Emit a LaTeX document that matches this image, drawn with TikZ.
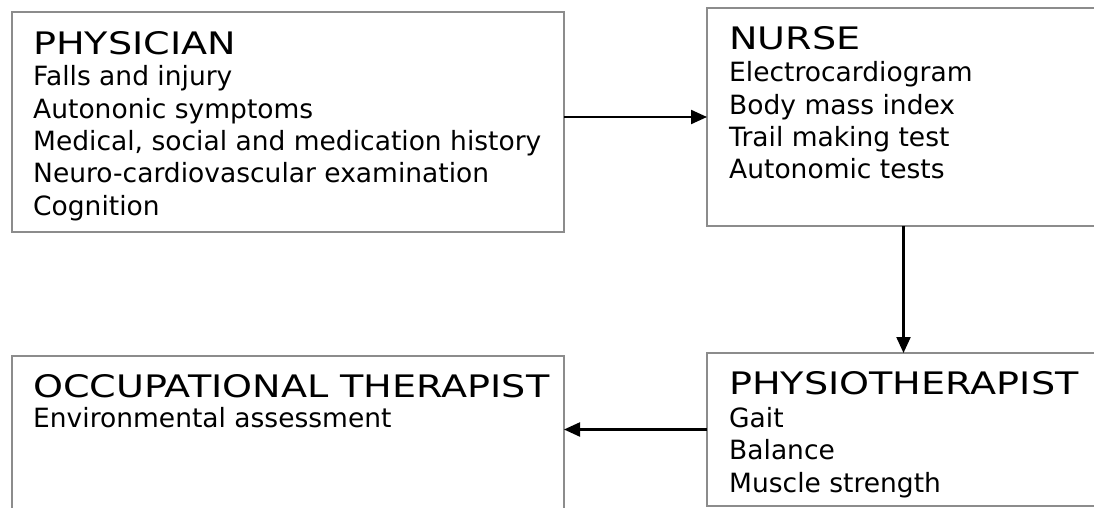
\documentclass[tikz,border=0pt]{standalone}
\usepackage{fontspec}
\setmainfont{DejaVu Sans}
\newfontfamily\headfont[FakeStretch=1.23]{DejaVu Sans}
\usetikzlibrary{arrows.meta}

\definecolor{boxline}{RGB}{140,140,140}

\tikzset{
  box/.style={draw=boxline, line width=2pt, fill=white, rectangle,
              anchor=north west, inner sep=0pt, outer sep=0pt},
  head/.style={anchor=base west, inner sep=0pt,
               font=\headfont\fontsize{31}{34}\selectfont},
  entry/.style={anchor=base west, inner sep=0pt,
                font=\fontsize{26.5}{32}\selectfont},
  flow/.style={draw=black, line width=2.2pt,
               -{Triangle[length=16pt,width=14pt]}}
}

\begin{document}
\begin{tikzpicture}[x=1pt, y=-1pt]
  \useasboundingbox (0,0) rectangle (1094,508);
  \fill[white] (0,0) rectangle (1094,508);
  \clip (0,0) rectangle (1094,508);

  % the four boxes
  \node[box, minimum width=552pt, minimum height=220pt] (phys)   at (12,12)  {};
  \node[box, minimum width=393pt, minimum height=218pt] (nurse)  at (707,8)  {};
  \node[box, minimum width=393pt, minimum height=153pt] (physio) at (707,353) {};
  \node[box, minimum width=552pt, minimum height=164pt] (occ)    at (12,356) {};

  % physician
  \node[head]  (physH) at (33,55)    {PHYSICIAN};
  \node[entry] (phys1) at (33,86)    {Falls and injury};
  \node[entry] (phys2) at (33,118.3) {Autononic symptoms};
  \node[entry] (phys3) at (33,150.6) {Medical, social and medication history};
  \node[entry] (phys4) at (33,182.9) {Neuro-cardiovascular examination};
  \node[entry] (phys5) at (33,215.2) {Cognition};

  % nurse
  \node[head]  (nurseH) at (729,50)    {NURSE};
  \node[entry] (nurse1) at (729,82)    {Electrocardiogram};
  \node[entry] (nurse2) at (729,114.3) {Body mass index};
  \node[entry] (nurse3) at (729,146.6) {Trail making test};
  \node[entry] (nurse4) at (729,178.9) {Autonomic tests};

  % physiotherapist
  \node[head]  (physioH) at (729,394)   {PHYSIOTHERAPIST};
  \node[entry] (physio1) at (729,427)   {Gait};
  \node[entry] (physio2) at (729,459.5) {Balance};
  \node[entry] (physio3) at (729,492)   {Muscle strength};

  % occupational therapist
  \node[head]  (occH) at (33,397) {OCCUPATIONAL THERAPIST};
  \node[entry] (occ1) at (33,427) {Environmental assessment};

  % referral flow
  \draw[flow] (phys.east |- nurse.west) -- (nurse.west);
  \draw[flow] (nurse.south) -- (nurse.south |- physio.north);
  \draw[flow] (physio.west) -- (physio.west -| occ.east);
\end{tikzpicture}
\end{document}
